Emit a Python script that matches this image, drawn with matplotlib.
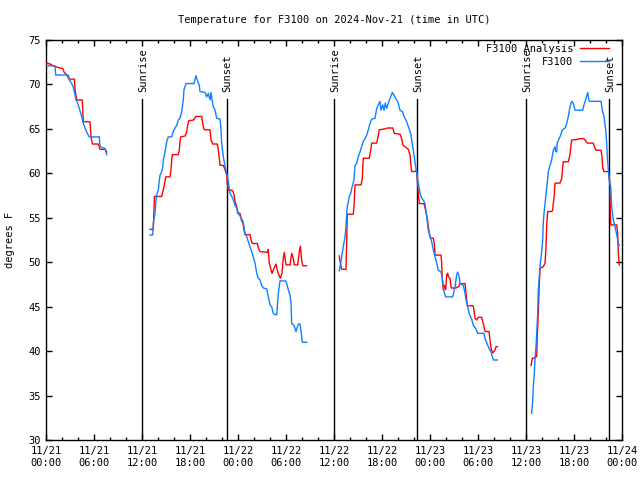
import matplotlib
matplotlib.use("Agg")
import matplotlib.pyplot as plt
import matplotlib.transforms as mtransforms
import numpy as np

# ---------------- data (hours since 11/21 00:00 UTC, degrees F) ----------------
red_h1 = [0.09, 0.5, 0.91, 1.54, 2.09, 2.25, 2.59, 2.88, 3.54, 3.63, 3.84, 4.54, 4.66, 5.5, 5.63, 5.79, 6.54, 6.75, 7.38, 7.59]
red_v1 = [72.4, 72.3, 72.1, 71.9, 71.8, 71.4, 71.06, 70.6, 70.6, 69.4, 68.25, 68.25, 65.8, 65.8, 64.1, 63.3, 63.3, 62.7, 62.7, 62.4]

blue_h1 = [0.09, 1.13, 1.21, 2.79, 2.91, 3.21, 3.41, 3.59, 3.75, 3.96, 4.16, 4.46, 4.66, 4.88, 5.16, 5.41, 6.66, 6.75, 7.38, 7.59]
blue_v1 = [72.1, 72.1, 71.06, 71.06, 70.5, 70.1, 69.7, 69.0, 68.25, 67.9, 67.3, 66.4, 65.6, 65.1, 64.5, 64.1, 64.1, 63.0, 62.8, 62.1]

blue_h2 = [13.0, 13.34, 13.41, 13.63, 13.75, 13.84, 14.04, 14.13, 14.25, 14.38, 14.59, 14.66, 14.88, 15.09, 15.29, 15.71,
           15.91, 16.13, 16.34, 16.54, 16.75, 16.96, 17.16, 17.25, 17.5, 18.5, 18.75, 18.91, 19.16, 19.25, 19.88, 20.09,
           20.29, 20.5, 20.63, 20.79, 20.91, 21.13, 21.34, 21.75, 21.84, 21.96, 22.16, 22.38, 22.59, 22.79, 23.0, 23.34,
           23.63, 23.84, 24.04, 24.46, 24.66, 24.88, 25.09, 25.29, 25.5, 25.71, 25.91, 26.13, 26.34, 26.54, 26.75, 26.96,
           27.16, 27.59, 27.79, 28.0, 28.21, 28.41, 28.63, 28.84, 29.04, 29.25, 29.96, 30.09, 30.29, 30.5, 30.63, 30.71,
           31.0, 31.25, 31.54, 31.75, 31.88, 32.04, 32.59]
blue_v2 = [53.06, 53.06, 54.4, 55.5, 57.0, 57.6, 58.1, 58.9, 59.8, 60.0, 60.6, 61.5, 62.4, 63.6, 64.1, 64.1,
           64.7, 65.1, 65.4, 66.0, 66.2, 66.9, 68.25, 69.4, 70.1, 70.1, 71.0, 70.5, 69.9, 69.2, 69.1, 68.6,
           69.0, 68.25, 69.1, 68.1, 67.5, 67.1, 66.2, 66.1, 65.4, 63.4, 61.9, 60.75, 60.0, 59.1, 57.75, 57.2,
           56.4, 56.1, 55.5, 54.9, 54.4, 53.25, 52.9, 52.3, 51.75, 51.2, 50.6, 49.9, 48.75, 48.2, 48.0, 47.4,
           47.1, 47.0, 46.1, 45.2, 45.0, 44.25, 44.1, 44.1, 46.5, 47.9, 47.9, 47.6, 46.9, 46.3, 45.4, 43.1,
           42.9, 42.2, 43.05, 43.05, 42.2, 41.0, 41.0]

red_h2 = [13.0, 13.41, 13.56, 14.46, 14.59, 14.75, 14.96, 15.5, 15.63, 15.71, 15.79, 16.54, 16.66, 16.75, 16.84, 17.38,
          17.59, 17.71, 17.84, 18.41, 18.75, 19.46, 19.66, 19.79, 20.5, 20.63, 20.84, 21.41, 21.54, 21.66, 21.75, 22.16,
          22.38, 22.59, 22.66, 22.79, 23.21, 23.41, 23.54, 23.63, 23.84, 23.96, 24.25, 24.46, 24.59, 24.75, 24.88, 25.5,
          25.71, 25.91, 26.41, 26.54, 26.75, 27.71, 27.79, 27.91, 28.09, 28.25, 28.5, 28.75, 28.91, 29.09, 29.29, 29.5,
          29.66, 29.79, 30.0, 30.5, 30.71, 30.91, 31.04, 31.46, 31.66, 31.79, 31.96, 32.09, 32.59]
red_v2 = [53.7, 53.7, 57.4, 57.4, 57.9, 58.5, 59.6, 59.6, 60.4, 61.5, 62.1, 62.1, 62.6, 63.6, 64.1, 64.2,
          64.7, 65.4, 65.9, 66.0, 66.4, 66.4, 65.25, 64.9, 64.9, 63.75, 63.3, 63.3, 62.6, 61.7, 60.9, 60.9,
          60.4, 59.8, 58.9, 58.1, 58.1, 57.9, 57.4, 56.8, 56.25, 55.5, 55.5, 54.6, 54.6, 53.6, 53.1, 53.1,
          52.2, 52.1, 52.1, 51.6, 51.2, 51.1, 51.45, 49.9, 49.3, 48.75, 49.3, 49.8, 49.1, 48.6, 48.2, 48.75,
          50.4, 51.1, 49.7, 49.7, 51.0, 50.4, 49.7, 49.7, 51.2, 51.8, 50.25, 49.6, 49.6]

blue_h3 = [36.66, 36.84, 36.96, 37.16, 37.38, 37.5, 37.59, 37.66, 37.79, 37.91, 38.09, 38.21, 38.34, 38.5, 38.63, 38.84,
           39.04, 39.25, 39.46, 39.66, 39.88, 40.09, 40.29, 40.5, 40.71, 41.13, 41.34, 41.54, 41.75, 41.88, 42.09, 42.25,
           42.41, 42.59, 42.79, 43.0, 43.29, 43.5, 43.71, 43.96, 44.25, 44.59, 44.75, 45.09, 45.29, 45.59, 45.84, 46.0,
           46.21, 46.41, 46.75, 46.96, 47.16, 47.38, 47.5, 47.66, 47.79, 48.0, 48.21, 48.41, 48.63, 48.84, 49.04, 49.38,
           49.54, 49.75, 49.96, 50.84, 51.13, 51.34, 51.46, 51.63, 51.75, 52.16, 52.38, 52.5, 52.66, 52.91, 53.21, 53.41,
           53.75, 53.96, 54.75, 54.88, 55.09, 55.38, 55.63, 55.91, 56.41]
blue_v3 = [49.05, 49.9, 50.6, 51.75, 52.9, 54.0, 55.5, 56.25, 56.8, 57.4, 57.75, 58.3, 58.7, 59.25, 60.9, 61.1,
           61.9, 62.4, 63.0, 63.6, 63.9, 64.3, 64.9, 65.6, 66.1, 66.2, 67.3, 67.7, 68.1, 67.1, 67.7, 67.1,
           67.9, 67.3, 67.9, 68.4, 69.1, 68.8, 68.4, 68.1, 67.1, 66.9, 66.4, 65.8, 65.25, 64.5, 63.0, 62.1,
           60.75, 59.6, 57.75, 57.2, 57.0, 56.6, 55.7, 54.6, 53.6, 52.9, 52.3, 51.4, 50.6, 49.9, 49.1, 48.9,
           48.2, 46.7, 46.1, 46.1, 47.25, 48.6, 48.9, 48.4, 47.6, 47.4, 46.5, 45.75, 45.2, 44.2, 43.6, 42.9,
           42.5, 42.0, 42.0, 41.4, 40.95, 40.3, 39.9, 39.0, 39.0]

red_h3 = [36.66, 36.75, 36.96, 37.5, 37.59, 37.66, 38.41, 38.5, 38.63, 39.38, 39.54, 39.66, 40.41, 40.59, 40.71, 41.34,
          41.54, 41.66, 42.38, 42.66, 43.34, 43.54, 44.25, 44.46, 44.59, 45.29, 45.5, 45.63, 45.71, 46.13, 46.34, 46.41,
          46.54, 46.66, 47.25, 47.38, 47.5, 47.66, 47.79, 47.91, 48.09, 48.41, 48.54, 48.63, 49.38, 49.46, 49.54, 49.66,
          49.79, 49.96, 50.09, 50.21, 50.29, 50.5, 50.66, 51.25, 51.54, 51.75, 51.96, 52.38, 52.5, 52.66, 53.41, 53.63,
          53.84, 54.04, 54.46, 54.66, 54.88, 55.38, 55.5, 55.63, 55.84, 56.13, 56.25, 56.41]
red_v3 = [50.7, 50.1, 49.2, 49.2, 52.5, 55.4, 55.4, 56.25, 58.7, 58.7, 59.4, 61.7, 61.7, 62.6, 63.4, 63.4,
          64.3, 64.9, 65.0, 65.1, 65.1, 64.5, 64.4, 63.9, 63.2, 62.7, 62.1, 60.7, 60.2, 60.2, 60.4, 59.25,
          57.75, 56.6, 56.6, 56.1, 55.7, 54.9, 54.0, 53.25, 52.7, 52.7, 52.1, 50.8, 50.8, 49.9, 48.0, 46.9,
          47.4, 46.9, 48.6, 48.75, 48.4, 48.2, 47.1, 47.1, 47.25, 47.55, 47.6, 47.6, 46.5, 45.1, 45.1, 43.7,
          43.5, 43.8, 43.8, 43.1, 42.2, 42.2, 41.25, 40.3, 39.8, 40.1, 40.5, 40.5]

blue_h4 = [60.71, 60.84, 60.91, 61.04, 61.13, 61.25, 61.34, 61.46, 61.54, 61.75, 61.96, 62.09, 62.16, 62.25, 62.38, 62.5,
           62.66, 62.79, 63.0, 63.21, 63.41, 63.63, 63.71, 63.84, 63.91, 64.13, 64.34, 64.54, 64.88, 65.09, 65.29, 65.5,
           65.71, 65.91, 66.13, 67.09, 67.25, 67.5, 67.71, 67.88, 68.0, 69.38, 69.54, 69.75, 69.96, 70.09, 70.16, 70.29,
           70.41, 70.59, 70.71, 70.91, 71.13, 71.34, 71.54, 71.66]
blue_v4 = [33.0, 34.5, 36.0, 37.5, 39.2, 40.5, 42.0, 44.25, 46.9, 49.5, 51.2, 52.5, 54.4, 55.5, 56.6, 57.6,
           58.9, 60.2, 60.9, 61.5, 62.6, 63.0, 62.5, 62.4, 63.4, 63.9, 64.3, 64.9, 65.1, 65.6, 66.4, 67.5,
           68.1, 67.9, 67.1, 67.1, 67.7, 68.4, 69.1, 68.2, 68.1, 68.1, 67.1, 66.4, 64.9, 63.4, 61.9, 60.4,
           59.25, 58.5, 56.25, 54.75, 54.0, 53.1, 52.1, 51.9]

red_h4 = [60.63, 60.79, 61.0, 61.34, 61.41, 61.54, 61.63, 61.75, 62.16, 62.38, 62.5, 62.59, 62.71, 63.21, 63.34, 63.41,
          63.54, 63.63, 64.25, 64.46, 64.59, 64.66, 65.29, 65.5, 65.63, 65.71, 66.34, 66.66, 67.25, 67.5, 67.71, 68.41,
          68.63, 68.75, 69.38, 69.5, 69.59, 69.75, 70.29, 70.41, 70.5, 70.54, 70.59, 71.34, 71.46, 71.54, 71.66]
red_v4 = [38.4, 39.2, 39.2, 39.4, 41.6, 44.25, 46.9, 49.3, 49.5, 49.9, 51.75, 54.2, 55.7, 55.7, 55.9, 56.6,
          57.6, 58.9, 58.9, 59.4, 60.75, 61.3, 61.3, 62.1, 63.2, 63.75, 63.8, 63.9, 63.9, 63.6, 63.4, 63.4,
          62.8, 62.6, 62.6, 61.9, 60.6, 60.2, 60.2, 59.6, 58.5, 55.5, 54.2, 54.2, 53.25, 51.0, 49.7]

sunrise_h = [12.0, 36.0, 60.0]
sunset_h = [22.58, 46.42, 70.42]

tick_hours = [0, 6, 12, 18, 24, 30, 36, 42, 48, 54, 60, 66, 72]
tick_labels = ["11/21\n00:00", "11/21\n06:00", "11/21\n12:00", "11/21\n18:00",
               "11/22\n00:00", "11/22\n06:00", "11/22\n12:00", "11/22\n18:00",
               "11/23\n00:00", "11/23\n06:00", "11/23\n12:00", "11/23\n18:00",
               "11/24\n00:00"]
y_ticks = [30, 35, 40, 45, 50, 55, 60, 65, 70, 75]

# ---------------- figure ----------------
plt.rcParams['font.family'] = ['DejaVu Sans Mono', 'DejaVu Sans']
FS = 7.5
RED = '#ff0000'
BLUE = '#1080ff'

fig = plt.figure(figsize=(6.4, 4.8), dpi=100)
ax = fig.add_axes([46/640, 40/480, 576/640, 400/480])

trans = mtransforms.blended_transform_factory(ax.transData, ax.transAxes)
for h in sunrise_h:
    ax.axvline(h, ymin=0, ymax=0.8525, color='black', lw=1.0)
    ax.text(h + 0.1, 0.87, 'Sunrise', transform=trans, rotation=90, ha='center', va='bottom', fontsize=FS)
for h in sunset_h:
    ax.axvline(h, ymin=0, ymax=0.8525, color='black', lw=1.0)
    ax.text(h + 0.1, 0.87, 'Sunset', transform=trans, rotation=90, ha='center', va='bottom', fontsize=FS)

segments_red = [(red_h1, red_v1), (red_h2, red_v2), (red_h3, red_v3), (red_h4, red_v4)]
segments_blue = [(blue_h1, blue_v1), (blue_h2, blue_v2), (blue_h3, blue_v3), (blue_h4, blue_v4)]
for i, (h, v) in enumerate(segments_red):
    ax.plot(h, v, color=RED, lw=1.0, label='F3100 Analysis' if i == 0 else None, zorder=3)
for i, (h, v) in enumerate(segments_blue):
    ax.plot(h, v, color=BLUE, lw=1.0, label='F3100' if i == 0 else None, zorder=4)

ax.set_xlim(0, 72)
ax.set_ylim(30, 75)
ax.set_xticks(tick_hours)
ax.set_xticklabels(tick_labels, fontsize=FS, linespacing=1.25)
ax.set_xticks(np.arange(0, 73, 2), minor=True)
ax.set_yticks(y_ticks)
ax.set_yticklabels([str(v) for v in y_ticks], fontsize=FS)
ax.tick_params(axis='both', which='major', direction='in', length=4, width=1,
               top=True, right=True, colors='black')
ax.tick_params(axis='x', which='minor', direction='in', length=2.2, width=1, top=True)
ax.tick_params(axis='x', which='major', pad=4)
ax.tick_params(axis='y', which='major', pad=4)
for s in ax.spines.values():
    s.set_linewidth(1.0)
    s.set_color('black')

leg = ax.legend(loc='upper right', bbox_to_anchor=(1 - 13/576, 1 - 4/400), frameon=False,
                fontsize=FS, markerfirst=False, handlelength=2.8, handletextpad=0.6,
                borderaxespad=0.0, borderpad=0.0, labelspacing=0.25)

fig.text(334/640, 1 - 20/480, 'Temperature for F3100 on 2024-Nov-21 (time in UTC)',
         ha='center', va='center', fontsize=FS)
fig.text(10/640, 1 - 240/480, 'degrees F', rotation=90, ha='center', va='center', fontsize=FS)

fig.savefig('out.png', dpi=100)
